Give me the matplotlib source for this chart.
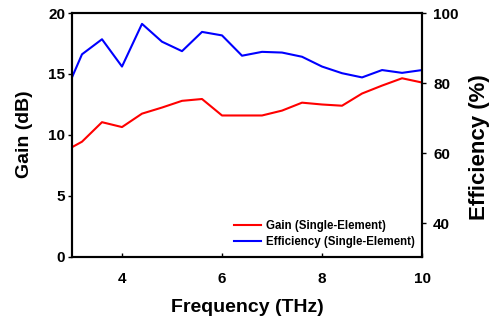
import numpy as np
import matplotlib
matplotlib.use("Agg")
from matplotlib import pyplot as plt

plt.rcParams['font.family'] = ['Liberation Sans', 'DejaVu Sans']
plt.rcParams['font.weight'] = 'bold'

freq = [3.0, 3.2, 3.6, 4.0, 4.4, 4.8, 5.2, 5.6, 6.0, 6.4, 6.8, 7.2, 7.6,
        8.0, 8.4, 8.8, 9.2, 9.6, 10.0]
gain = [9.0, 9.45, 11.05, 10.65, 11.75, 12.25, 12.8, 12.95, 11.6, 11.6, 11.6,
        12.0, 12.65, 12.5, 12.4, 13.4, 14.05, 14.65, 14.3]
efficiency = [81.6, 88.2, 92.5, 84.7, 96.9, 91.8, 89.1, 94.6, 93.6, 87.8,
              88.9, 88.7, 87.5, 84.7, 82.8, 81.6, 83.7, 82.9, 83.7]

x_ticks = [4, 6, 8, 10]
gain_ticks = [0, 5, 10, 15, 20]
eff_ticks = [40, 60, 80, 100]

fig = plt.figure(figsize=(4.91, 3.21), dpi=100)
ax = fig.add_axes([0.1466, 0.1994, 0.713, 0.7601])
ax2 = ax.twinx()

l1, = ax.plot(freq, gain, color="#ff0000", lw=1.5, label="Gain (Single-Element)")
l2, = ax2.plot(freq, efficiency, color="#0000ff", lw=1.5, label="Efficiency (Single-Element)")

ax.set_xlim(3, 10)
ax.set_ylim(0, 20)
ax2.set_ylim(30.3, 100)
ax.set_xticks(x_ticks)
ax.set_yticks(gain_ticks)
ax2.set_yticks(eff_ticks)

for a in (ax, ax2):
	for s in a.spines.values():
		s.set_linewidth(1.5)
ax.tick_params(axis="x", direction="in", length=3, width=1, labelsize=11, pad=11)
ax.tick_params(axis="y", direction="out", length=3, width=1, labelsize=11, pad=2)
ax2.tick_params(axis="y", direction="out", length=3, width=1, labelsize=11, pad=5)

ax.set_xlabel("Frequency (THz)", fontsize=14, fontweight="bold", labelpad=9)
ax.set_ylabel("Gain (dB)", fontsize=14, fontweight="bold")
ax.yaxis.set_label_coords(-0.135, 0.505)
ax.yaxis.label.set(ha="center", va="center")
ax2.set_ylabel("Efficiency (%)", fontsize=16, fontweight="bold")
ax2.yaxis.set_label_coords(1.165, 0.45)
ax2.yaxis.label.set(ha="center", va="center")

ax.legend(handles=[l1, l2], loc="lower right", frameon=False, fontsize=8.3,
	handlelength=2.3, handletextpad=0.5, labelspacing=0.35,
	bbox_to_anchor=(1.0, 0.01), borderaxespad=0.2)

fig.savefig("out.png", dpi=100)
